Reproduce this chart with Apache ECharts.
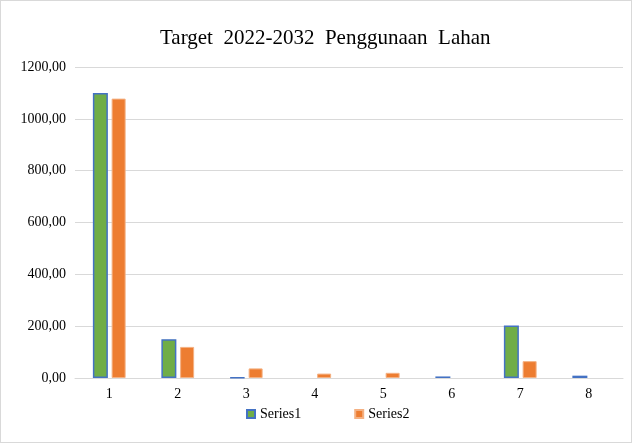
<!DOCTYPE html>
<html>
<head>
<meta charset="utf-8">
<script src="https://cdn.jsdelivr.net/npm/echarts@6/dist/echarts.min.js"></script>
<style>
html,body{margin:0;padding:0;background:#fff;}
#chart{width:630px;height:441px;border:1px solid #d9d9d9;}
</style>
</head>
<body>
<div id="chart"></div>
<script>
var categories=['1','2','3','4','5','6','7','8'];
var series1=[1100,150,2,0,0,6,203,9];
var series2=[1078,120,37,17,20,0,65,0];
var yTicks=[0,200,400,600,800,1000,1200];

// zero values draw no bar in the original
function noZero(arr){
    return arr.map(function(v){return v===0?'-':v;});
}

var chart=echarts.init(document.getElementById('chart'));
var serif='"Liberation Serif","DejaVu Serif",serif';
var option={
    animation:false,
    title:{
        text:'Target  2022-2032  Penggunaan  Lahan',
        left:154,
        top:22,
        textStyle:{fontFamily:serif,fontSize:21,fontWeight:'normal',color:'#000'}
    },
    legend:{
        left:240,
        bottom:16,
        itemWidth:8,
        itemHeight:8,
        itemGap:53,
        icon:'rect',
        textStyle:{fontFamily:serif,fontSize:14,color:'#000'},
        data:['Series1','Series2']
    },
    grid:{left:74,right:8,top:66,bottom:64},
    xAxis:{
        type:'category',
        data:categories,
        axisLine:{lineStyle:{color:'#d9d9d9',width:1}},
        axisTick:{show:false},
        axisLabel:{fontFamily:serif,fontSize:14,color:'#000',margin:9}
    },
    yAxis:{
        type:'value',
        min:yTicks[0],
        max:yTicks[yTicks.length-1],
        interval:200,
        axisLine:{show:false},
        axisTick:{show:false},
        splitLine:{lineStyle:{color:'#d9d9d9'}},
        axisLabel:{
            fontFamily:serif,fontSize:14,color:'#000',margin:9,
            formatter:function(v){return v.toFixed(2).replace('.',',');}
        }
    },
    series:[
        {
            name:'Series1',
            type:'bar',
            data:noZero(series1),
            barWidth:15,
            barGap:'25%',
            itemStyle:{color:'#70ad47',borderColor:'#4472c4',borderWidth:1.5}
        },
        {
            name:'Series2',
            type:'bar',
            data:noZero(series2),
            barWidth:14,
            itemStyle:{color:'#ed7d31',borderColor:'#f4b183',borderWidth:1}
        }
    ]
};
chart.setOption(option);
</script>
</body>
</html>
